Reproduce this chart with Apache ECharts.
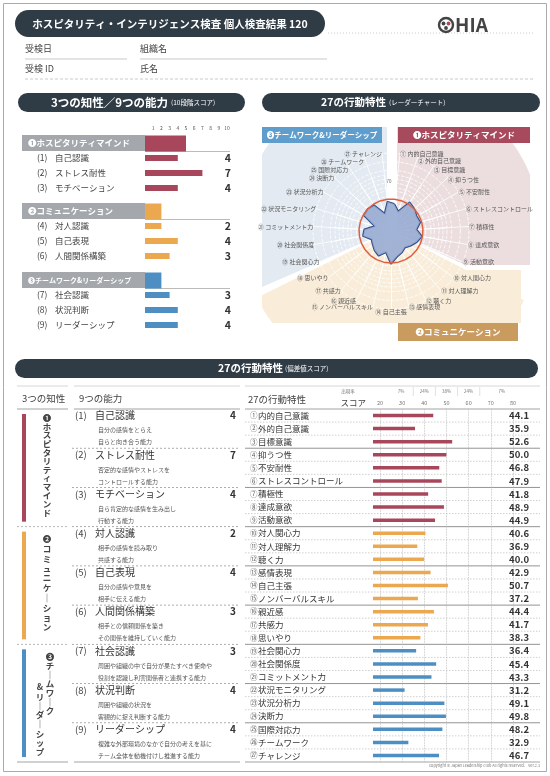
<!DOCTYPE html>
<html>
<head>
<meta charset="utf-8">
<script src="https://cdn.jsdelivr.net/npm/echarts@6/dist/echarts.min.js"></script>
<style>
  html, body { margin: 0; padding: 0; background: #fff; }
  #main { width: 550px; height: 776px; }
</style>
</head>
<body>
<div id="main"></div>
<script>
// 3つの知性 (10段階スコア)
const groupNames = ['❶ホスピタリティマインド', '❷コミュニケーション', '❸チームワーク&リーダーシップ'];
const groupScores = [5, 2, 2];

// 9つの能力 (10段階スコア)
const abilityNames = ['自己認識', 'ストレス耐性', 'モチベーション', '対人認識', '自己表現', '人間関係構築', '社会認識', '状況判断', 'リーダーシップ'];
const abilityScores = [4, 7, 4, 2, 4, 3, 3, 4, 4];
const abilityDesc = [
  ['自分の感情をとらえ', '自らと向き合う能力'],
  ['否定的な感情やストレスを', 'コントロールする能力'],
  ['自ら肯定的な感情を生み出し', '行動する能力'],
  ['相手の感情を読み取り', '共感する能力'],
  ['自分の感情や意見を', '相手に伝える能力'],
  ['相手との信頼関係を築き', 'その関係を維持していく能力'],
  ['周囲や組織の中で自分が果たすべき使命や', '役割を認識し利害関係者と連携する能力'],
  ['周囲や組織の状況を', '客観的に捉え判断する能力'],
  ['複雑な外部環境のなかで自分の考えを基に', 'チーム全体を動機付けし推進する能力']
];

// 27の行動特性 (偏差値スコア)
const traitNames = ['内的自己意識', '外的自己意識', '目標意識', '抑うつ性', '不安耐性', 'ストレスコントロール', '積極性', '達成意欲', '活動意欲',
  '対人関心力', '対人理解力', '聴く力', '感情表現', '自己主張', 'ノンバーバルスキル', '親近感', '共感力', '思いやり',
  '社会関心力', '社会関係度', 'コミットメント力', '状況モニタリング', '状況分析力', '決断力', '国際対応力', 'チームワーク', 'チャレンジ'];
const traitScores = [44.1, 35.9, 52.6, 50.0, 46.8, 47.9, 41.8, 48.9, 44.9,
  40.6, 36.9, 40.0, 42.9, 50.7, 37.2, 44.4, 41.7, 38.3,
  36.4, 45.4, 43.3, 31.2, 49.1, 49.8, 48.2, 32.9, 46.7];
const circled = Array.from('①②③④⑤⑥⑦⑧⑨⑩⑪⑫⑬⑭⑮⑯⑰⑱⑲⑳㉑㉒㉓㉔㉕㉖㉗');
const meanScore = 50;

// 出現率
const rateLabels = ['7%', '24%', '38%', '24%', '7%'];
const rateCenters = [29.5, 40, 50, 60, 75];
const rateEdges = [35, 45, 55, 65];

const FONT = '"Noto Sans CJK JP", "Noto Sans", sans-serif';
const DARK = '#2f3b45';
const colors = ['#a8475b', '#eba84e', '#4d8fc3'];

const g = [];
function txt(x, y, s, size, fill, align, weight, z) {
  g.push({ type: 'text', x: x, y: y, z: z || 1, style: {
    text: s, font: (weight || 'normal') + ' ' + size + 'px ' + FONT,
    fill: fill || '#444', textAlign: align || 'left', textVerticalAlign: 'middle' } });
}
function rect(x, y, w, h, fill, r, z) {
  g.push({ type: 'rect', z: z || 0, shape: { x: x, y: y, width: w, height: h, r: r || 0 }, style: { fill: fill } });
}
function line(x1, y1, x2, y2, stroke, width, dash, z) {
  g.push({ type: 'line', z: z || 0, shape: { x1: x1, y1: y1, x2: x2, y2: y2 },
    style: { stroke: stroke, lineWidth: width || 1, lineDash: dash || null } });
}
function vtext(x, y0, step, s, size) {
  Array.from(s).forEach((ch, i) => txt(x, y0 + i * step, ch === 'ー' ? '｜' : ch, size, '#444', 'center', 'bold'));
}

// ---- page frame & header
g.push({ type: 'rect', shape: { x: 3.5, y: 3.5, width: 543, height: 768 }, style: { fill: 'none', stroke: '#aaa', lineWidth: 1 } });
rect(15, 10, 310, 27, DARK, 13.5);
txt(170, 24, 'ホスピタリティ・インテリジェンス検査 個人検査結果 120', 10.5, '#fff', 'center', 'bold');
line(328, 33, 535, 33, '#bbb', 0.8, [1, 2]);
g.push({ type: 'circle', shape: { cx: 446, cy: 25, r: 7 }, style: { fill: 'none', stroke: '#444', lineWidth: 2.4 } });
g.push({ type: 'circle', shape: { cx: 443.5, cy: 23.5, r: 1.9 }, style: { fill: '#444' } });
g.push({ type: 'circle', shape: { cx: 448.5, cy: 23.5, r: 1.9 }, style: { fill: '#b5485a' } });
g.push({ type: 'circle', shape: { cx: 446, cy: 28, r: 1.9 }, style: { fill: '#444' } });
txt(455, 25, 'HIA', 19, '#444', 'left', 'bold');
txt(25, 49, '受検日', 9, '#444');
line(25, 59, 127, 59, '#bbb', 0.8);
txt(140, 49, '組織名', 9, '#444');
line(140, 59, 327, 59, '#bbb', 0.8);
txt(25, 69, '受検 ID', 9, '#444');
txt(140, 69, '氏名', 9, '#444');
line(25, 79, 533, 79, '#bbb', 0.8, [3, 2]);

// ---- section pills
rect(18, 93, 227, 19, DARK, 9.5);
txt(168, 102.5, '3つの知性／9つの能力', 11.5, '#fff', 'right', 'bold');
txt(171, 103, '(10段階スコア)', 6.5, '#fff');
rect(262, 93, 278, 19, DARK, 9.5);
txt(386, 102.5, '27の行動特性', 10.5, '#fff', 'right', 'bold');
txt(389, 103, '(レーダーチャート)', 6.5, '#fff');
rect(15, 359, 523, 19, DARK, 9.5);
txt(283, 368.5, '27の行動特性', 10.5, '#fff', 'right', 'bold');
txt(285, 369, '(偏差値スコア)', 6.5, '#fff');

// ---- top-left header bands
const groupCenters = [143, 211, 280];
groupCenters.forEach(c => {
  rect(22, c - 8, 123, 16, '#a4a7ab');
  line(145, c + 8.5, 230, c + 8.5, '#aaa', 0.8);
});

// ---- radar background wedges
const CX = 391, CY = 231;
function clipPoly(poly, x0, y0, x1, y1) {
  const tests = [
    [p => p[0] >= x0, (a, b) => [x0, a[1] + (x0 - a[0]) / (b[0] - a[0]) * (b[1] - a[1])]],
    [p => p[0] <= x1, (a, b) => [x1, a[1] + (x1 - a[0]) / (b[0] - a[0]) * (b[1] - a[1])]],
    [p => p[1] >= y0, (a, b) => [a[0] + (y0 - a[1]) / (b[1] - a[1]) * (b[0] - a[0]), y0]],
    [p => p[1] <= y1, (a, b) => [a[0] + (y1 - a[1]) / (b[1] - a[1]) * (b[0] - a[0]), y1]]
  ];
  let out = poly;
  tests.forEach(([inside, cut]) => {
    const input = out; out = [];
    for (let i = 0; i < input.length; i++) {
      const cur = input[i], prev = input[(i + input.length - 1) % input.length];
      if (inside(cur)) { if (!inside(prev)) out.push(cut(prev, cur)); out.push(cur); }
      else if (inside(prev)) out.push(cut(prev, cur));
    }
  });
  return out;
}
function wedge(a1, a2, box, fill) {
  const pts = [[CX, CY]];
  for (let k = 0; k <= 60; k++) {
    const a = (a1 + (a2 - a1) * k / 60) * Math.PI / 180;
    pts.push([CX + 150 * Math.cos(a), CY - 150 * Math.sin(a)]);
  }
  g.push({ type: 'polygon', z: -5, shape: { points: clipPoly(pts, box[0], box[1], box[2], box[3]) }, style: { fill: fill } });
}
wedge(-24.5, 90, [397, 127, 530, 265], '#ecdedf');
wedge(91, 203.5, [262, 127, 387, 341], '#e3eaf1');
wedge(206.5, 332.5, [262, 127, 530, 323], '#f9edda');
g.push({ type: 'rect', z: -5, shape: { x: 408, y: 270, width: 113, height: 53 }, style: { fill: '#f9edda' } });
rect(262, 127, 120, 16, '#5e9dcc');
txt(322, 135, '❸チームワーク&リーダーシップ', 7.5, '#fff', 'center', 'bold');
rect(398, 127, 132, 16, '#a84a5d');
txt(464, 135, '❶ホスピタリティマインド', 8.5, '#fff', 'center', 'bold');
rect(398, 323, 120, 18, '#c99b5e');
txt(458, 332, '❷コミュニケーション', 8.5, '#fff', 'center', 'bold');
txt(389, 181, '70', 4.5, '#666', 'center', 'normal', 10);

// ---- bottom table frame
const tTop = 409, tH = 353, rowH = tH / 27;
const devX = v => 380 + (v - 20) * 133 / 60;
[[17, 68], [74, 240], [245, 540]].forEach(s => {
  line(s[0], 386, s[1], 386, '#ccc', 0.8);
  line(s[0], tTop, s[1], tTop, '#999', 0.9);
  line(s[0], tTop + tH, s[1], tTop + tH, '#999', 0.9);
});
txt(22, 398, '3つの知性', 9.5, '#444');
txt(79, 398, '9つの能力', 9.5, '#444');
txt(248, 399, '27の行動特性', 9.5, '#444');
txt(366, 403, 'スコア', 8.5, '#444', 'right');
txt(348, 391, '出現率', 4.5, '#777', 'center');
rateLabels.forEach((s, i) => txt(devX(rateCenters[i]), 391, s, 4.5, '#777', 'center'));
rateEdges.forEach(e => line(devX(e), 387, devX(e), 396, '#ccc', 0.6));

// intelligence strips
[0, 1, 2].forEach(k => {
  const y0 = tTop + 9 * k * rowH + 5, y1 = tTop + 9 * (k + 1) * rowH - 5;
  rect(22, y0, 4, y1 - y0, colors[k]);
  if (k > 0) line(17, tTop + 9 * k * rowH, 68, tTop + 9 * k * rowH, '#aaa', 0.8, [2, 2]);
});
vtext(47, 418, 8.6, '❶ホスピタリティマインド', 8.5);
vtext(47, 539, 9.8, '❷コミュニケーション', 8.5);
vtext(50, 657, 9, '❸チームワーク', 8.5);
vtext(40, 687, 9.3, '&リーダーシップ', 8.5);

// abilities
abilityNames.forEach((name, k) => {
  const top = tTop + 3 * k * rowH;
  txt(75, top + 6.5, '(' + (k + 1) + ')', 9.5, '#444');
  txt(95, top + 6.5, name, 10, '#333');
  txt(236, top + 6.5, String(abilityScores[k]), 10, '#333', 'right', 'bold');
  txt(98, top + 21, abilityDesc[k][0], 6, '#555');
  txt(98, top + 33, abilityDesc[k][1], 6, '#555');
  if (k < 8) line(72, top + 3 * rowH, 240, top + 3 * rowH, '#999', 0.8, [2, 2]);
});
// trait rows
for (let r = 1; r < 27; r++) {
  const y = tTop + r * rowH;
  if (r % 3 === 0) line(245, y, 540, y, '#888', 0.9);
  else line(245, y, 540, y, '#bbb', 0.7, [1.5, 1.5]);
}
txt(540, 766, 'copyright © Japan Leadership Club All rights reserved.    ver.2.1', 3.8, '#777', 'right');

// ---- chart option
const grids = [], xAxes = [], yAxes = [], series = [];
const noAxis = { axisLine: { show: false }, axisTick: { show: false }, splitLine: { show: false } };

groupCenters.forEach((c, k) => {
  grids.push({ left: 145, width: 82, top: c - 7.5, height: 60, outerBoundsMode: 'none' });
  xAxes.push(Object.assign({ type: 'value', gridIndex: k, min: 0, max: 10, interval: 1, position: 'top',
    axisLabel: { show: k === 0, fontSize: 5, color: '#555', margin: 5, fontFamily: FONT, formatter: v => v === 0 ? '' : v } }, noAxis));
  yAxes.push(Object.assign({ type: 'category', gridIndex: k, inverse: true, data: ['h', 'a', 'b', 'c'],
    axisLabel: { interval: 0, align: 'left', margin: 117, fontFamily: FONT,
      formatter: (v, i) => i === 0 ? '{h|' + groupNames[k] + '}' : '{n|(' + (3 * k + i) + ')}{t|' + abilityNames[3 * k + i - 1] + '}',
      rich: {
        h: { color: '#fff', fontSize: k === 2 ? 7 : 8.5, fontWeight: 'bold', fontFamily: FONT },
        n: { color: '#444', fontSize: 8.5, width: 18, padding: [0, 0, 0, 9], fontFamily: FONT },
        t: { color: '#444', fontSize: 8.5, fontFamily: FONT }
      } } }, noAxis));
  yAxes.push(Object.assign({ type: 'category', gridIndex: k, inverse: true, data: ['h', 'a', 'b', 'c'],
    axisLabel: { interval: 0, align: 'right', margin: 4, fontFamily: FONT,
      formatter: (v, i) => i === 0 ? '{h|' + groupScores[k] + '}' : '{s|' + abilityScores[3 * k + i - 1] + '}',
      rich: {
        h: { color: '#fff', fontSize: 10, fontWeight: 'bold', fontFamily: FONT },
        s: { color: '#333', fontSize: 10.5, fontWeight: 'bold', fontFamily: FONT }
      } } }, noAxis));
  series.push({ type: 'bar', xAxisIndex: k, yAxisIndex: 2 * k + 1, barWidth: 17, silent: true,
    itemStyle: { color: colors[k] }, data: [groupScores[k], '-', '-', '-'] });
  series.push({ type: 'bar', xAxisIndex: k, yAxisIndex: 2 * k, barWidth: 6, silent: true,
    itemStyle: { color: colors[k] }, data: ['-'].concat(abilityScores.slice(3 * k, 3 * k + 3)) });
});

// bottom bars (grid 3) and deviation scale (grid 4)
grids.push({ left: 373, width: 149, top: tTop, height: tH, outerBoundsMode: 'none' });
grids.push({ left: 380, width: 133, top: tTop, height: tH, outerBoundsMode: 'none' });
xAxes.push({ type: 'value', gridIndex: 3, min: 17, max: 84, show: false });
xAxes.push(Object.assign({}, noAxis, { type: 'value', gridIndex: 4, min: 20, max: 80, interval: 10, position: 'top',
  axisLabel: { fontSize: 5.5, color: '#777', margin: 3, fontFamily: FONT },
  splitLine: { show: true, lineStyle: { color: '#bbb', type: 'dotted', width: 0.8 } } }));
const traitKeys = traitNames.map((n, i) => 't' + i);
const traitRich = { c: { fontSize: 7.5, color: '#666', width: 8, fontFamily: FONT }, t: { fontSize: 8.5, color: '#333', fontFamily: FONT } };
yAxes.push(Object.assign({ type: 'category', gridIndex: 3, inverse: true, data: traitKeys,
  axisLabel: { interval: 0, align: 'left', margin: 123, fontFamily: FONT,
    formatter: (v, i) => '{c|' + circled[i] + '}{t|' + traitNames[i] + '}', rich: traitRich } }, noAxis));
yAxes.push(Object.assign({ type: 'category', gridIndex: 3, inverse: true, data: traitKeys,
  axisLabel: { interval: 0, align: 'right', margin: 7, fontSize: 9.5, fontWeight: 'bold', color: '#333', fontFamily: FONT,
    formatter: (v, i) => traitScores[i].toFixed(1) } }, noAxis));
yAxes.push({ type: 'value', gridIndex: 4, show: false });
series.push({ type: 'bar', xAxisIndex: 3, yAxisIndex: 6, barWidth: 3.5, clip: true, silent: true,
  data: traitScores.map((v, i) => ({ value: v, itemStyle: { color: colors[Math.floor(i / 9)] } })) });

// radar: ① at top-right, clockwise
const order = [0].concat(traitNames.map((n, i) => 26 - i).slice(0, 26));
const startAngle = 90 - 180 / 27;
// labels near the top are nudged down so they do not collide
const nameShift = { 1: 3.5, 2: 4, 3: 2.5, 24: 4, 25: 4 };
const nameRich = {};
traitNames.forEach((n, i) => {
  nameRich['r' + i] = { fontSize: 6, color: '#555', fontFamily: FONT, padding: [2 * (nameShift[i] || 0), 0, 0, 0] };
});
const radar = [
  { center: [CX, CY], radius: 78, startAngle: startAngle, shape: 'circle', splitNumber: 9,
    indicator: order.map(() => ({ name: '', min: 0, max: 90 })),
    axisName: { show: false },
    axisLine: { lineStyle: { color: '#fff', width: 0.8 } },
    splitLine: { lineStyle: { color: '#fff', type: 'dashed', width: 0.8 } },
    splitArea: { show: false } },
  { center: [CX, CY], radius: 56, startAngle: startAngle, shape: 'circle', splitNumber: 7, nameGap: 22,
    indicator: order.map(i => ({ name: 'r' + i, min: 10, max: 80 })),
    axisName: { color: '#555', fontSize: 6, fontFamily: FONT, rich: nameRich,
      formatter: v => { const i = +v.slice(1); return '{' + v + '|' + circled[i] + ' ' + traitNames[i] + '}'; } },
    axisLine: { lineStyle: { color: '#fff', width: 0.8 } },
    splitLine: { lineStyle: { color: '#fff', type: 'dashed', width: 0.8 } },
    splitArea: { show: false } }
];
series.push({ type: 'radar', radarIndex: 1, symbol: 'none', silent: true, z: 3,
  data: [
    { value: order.map(i => traitScores[i]), lineStyle: { color: '#2f4b87', width: 2 }, areaStyle: { color: '#97abd2', opacity: 0.9 } },
    { value: order.map(() => meanScore), lineStyle: { color: '#dd5f3e', width: 1.5 } }
  ] });

const chart = echarts.init(document.getElementById('main'));
chart.setOption({
  animation: false,
  backgroundColor: '#fff',
  textStyle: { fontFamily: FONT },
  grid: grids,
  xAxis: xAxes,
  yAxis: yAxes,
  radar: radar,
  series: series,
  graphic: { elements: g }
});
</script>
</body>
</html>
